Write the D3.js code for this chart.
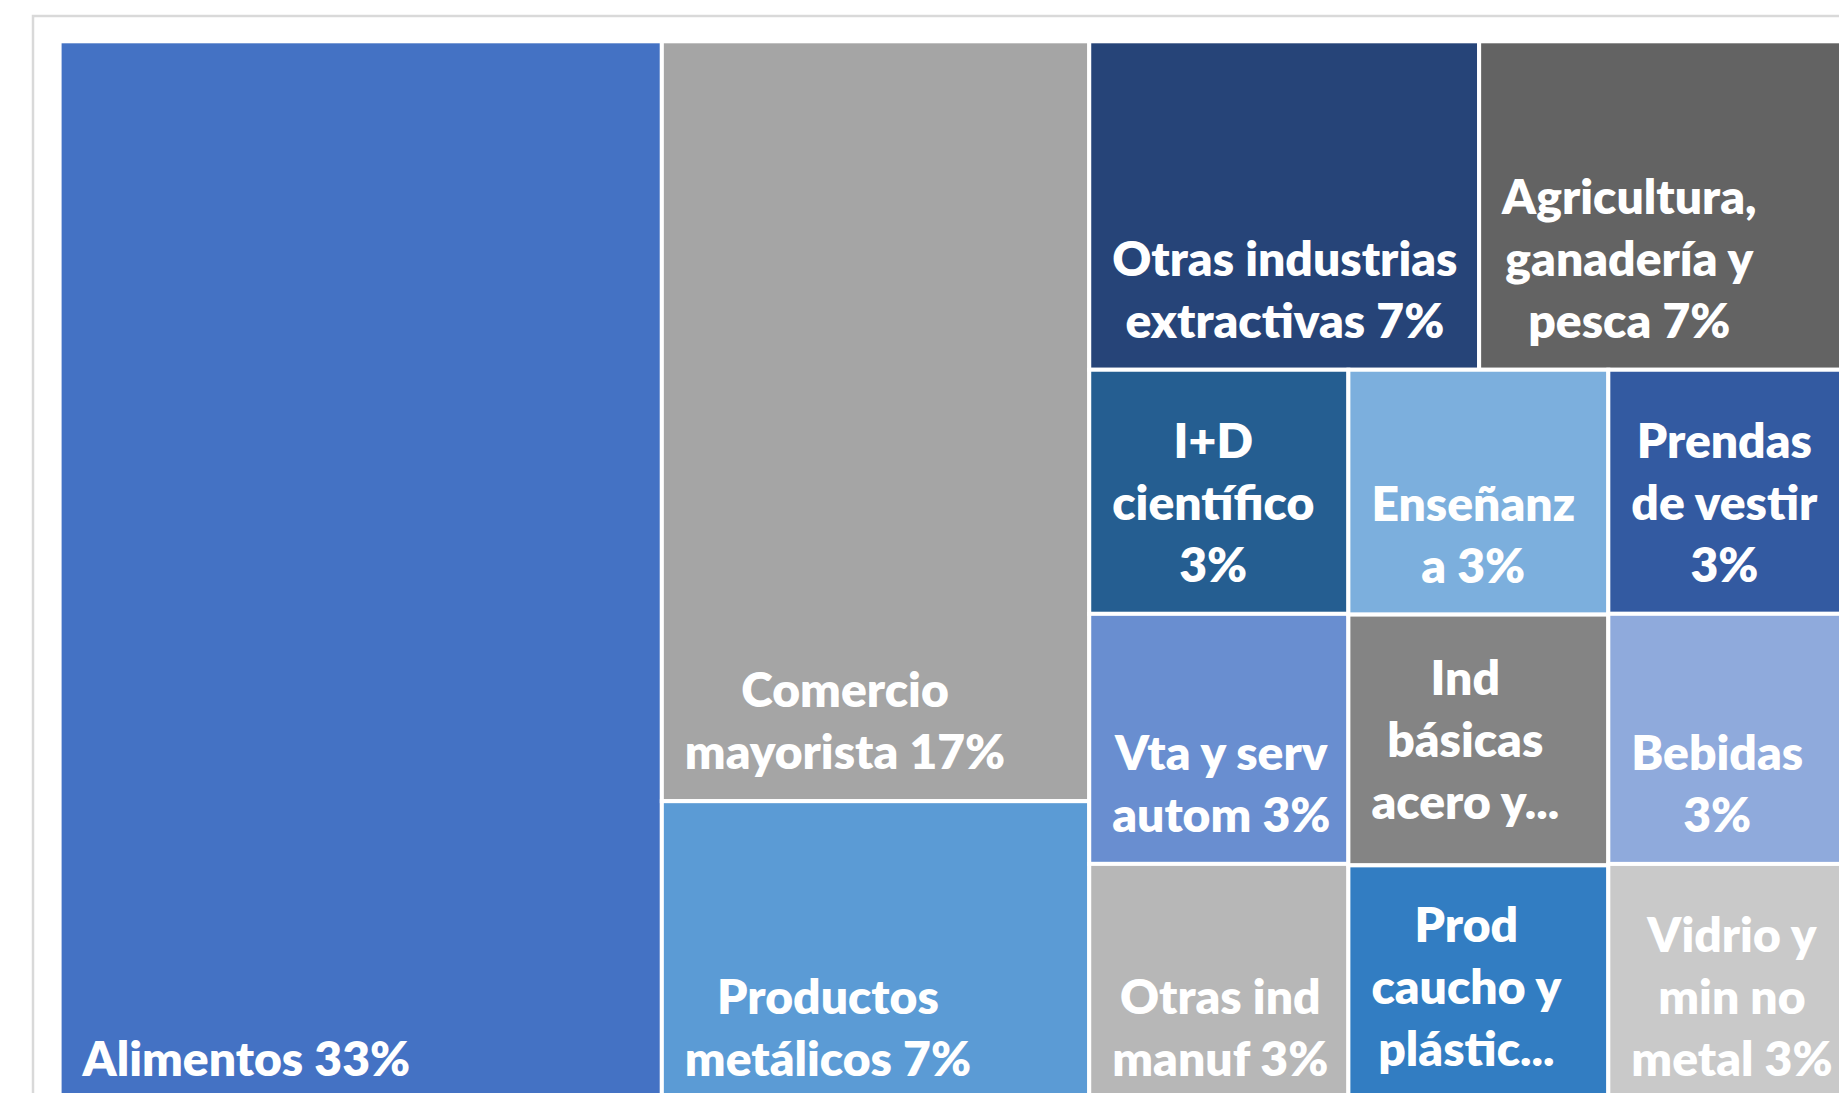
<!DOCTYPE html>
<html>
<head>
<meta charset="utf-8">
<script src="https://cdn.jsdelivr.net/npm/d3@7"></script>
<style>
  html, body { margin: 0; padding: 0; background: #fff; overflow: hidden; }
  svg { display: block; }
  .label text { font-family: Lato, "Open Sans", sans-serif; font-weight: 800; font-size: 48px; fill: #fff; }
</style>
</head>
<body>
<script>
const svgWidth = 1839,
    svgHeight = 1093;

// sectors in data order
const sectors = [
    "Alimentos", "Comercio mayorista", "Productos metálicos", "Otras industrias extractivas",
    "Agricultura, ganadería y pesca", "I+D científico", "Vta y serv autom", "Otras ind manuf",
    "Enseñanza", "Prendas de vestir", "Ind básicas acero y metales", "Prod caucho y plástico",
    "Bebidas", "Vidrio y min no metal"
];

// share of the total (%)
const shares = [33.41, 16.89, 6.82, 6.66, 6.54, 3.29, 3.37, 3.29, 3.31, 3.22, 3.39, 3.28, 3.30, 3.22];

// block of the treemap each sector falls in (Excel's tiling)
const blocks = ["", "b", "b", "c/r1", "c/r1", "c/g/1", "c/g/1", "c/g/1", "c/g/2", "c/g/3", "c/g/2", "c/g/2", "c/g/3", "c/g/3"];

const colors = ["#4472C4", "#A5A5A5", "#5B9BD5", "#264478", "#636363", "#255E91", "#698ED0",
    "#B7B7B7", "#7CAFDD", "#335AA1", "#848484", "#327DC2", "#8FAADC", "#C9C9C9"];

// label lines as wrapped in the chart; the percentage goes on the last line
const labelLines = [
    ["Alimentos"], ["Comercio", "mayorista"], ["Productos", "metálicos"], ["Otras industrias", "extractivas"],
    ["Agricultura,", "ganadería y", "pesca"], ["I+D", "científico", ""], ["Vta y serv", "autom"],
    ["Otras ind", "manuf"], ["Enseñanz", "a"], ["Prendas", "de vestir", ""], ["Ind", "básicas", "acero y..."],
    ["Prod", "caucho y", "plástic..."], ["Bebidas", ""], ["Vidrio y", "min no", "metal"]
];

const origin = { x: 59.6, y: 41.3 },
    mapWidth = 1802.4,
    mapHeight = 1066.7,
    gap = 4,
    pad = 21,
    lineH = 62;

var svg = d3.select("body").append("svg")
    .attr("width", svgWidth)
    .attr("height", svgHeight);

// chart area frame
svg.append("rect")
    .attr("x", 33).attr("y", 16)
    .attr("width", 2000).attr("height", 1200)
    .attr("fill", "none")
    .attr("stroke", "#D9D9D9")
    .attr("stroke-width", 2.5);

// nest sectors into their blocks
var tree = { name: "root", children: [] };
sectors.forEach(function (name, i) {
    var node = tree;
    blocks[i].split("/").filter(Boolean).forEach(function (key) {
        var next = node.children.find(function (c) { return c.name === key; });
        if (!next) { next = { name: key, children: [] }; node.children.push(next); }
        node = next;
    });
    node.children.push({ name: name, value: shares[i], index: i });
});

var root = d3.hierarchy(tree).sum(function (d) { return d.value || 0; });

d3.treemap()
    .tile(d3.treemapSliceDice)
    .size([mapWidth, mapHeight])(root);

var cell = svg.append("g")
    .attr("transform", "translate(" + origin.x + "," + origin.y + ")")
    .selectAll("g")
    .data(root.leaves())
    .enter().append("g");

cell.append("rect")
    .attr("x", function (d) { return d.x0; })
    .attr("y", function (d) { return d.y0; })
    .attr("width", function (d) { return d.x1 - d.x0; })
    .attr("height", function (d) { return d.y1 - d.y0; })
    .attr("fill", function (d) { return colors[d.data.index]; })
    .attr("stroke", "#fff")
    .attr("stroke-width", gap);

function labelOf(i) {
    var lines = labelLines[i].slice();
    var last = lines[lines.length - 1];
    if (!last.endsWith("...")) {
        lines[lines.length - 1] = (last + " " + Math.round(shares[i]) + "%").trim();
    }
    return lines;
}

cell.append("g")
    .attr("class", "label")
    .each(function (d) {
        var lines = labelOf(d.data.index);
        var texts = d3.select(this).selectAll("text")
            .data(lines)
            .enter().append("text")
            .text(function (t) { return t; });
        var widths = texts.nodes().map(function (n) { return n.getComputedTextLength(); });
        var blockW = d3.max(widths);
        var left = d.x0 + gap / 2 + pad;
        var lastBase;
        if (lines[lines.length - 1].endsWith("...")) {
            // clipped labels sit in the middle of the cell
            lastBase = (d.y0 + d.y1) / 2 + (lines.length - 1) * lineH / 2 + 17;
        } else {
            lastBase = d.y1 - gap / 2 - 30;
        }
        texts
            .attr("x", function (t, i) { return left + (blockW - widths[i]) / 2; })
            .attr("y", function (t, i) { return lastBase - (lines.length - 1 - i) * lineH; });
    });
</script>
</body>
</html>
